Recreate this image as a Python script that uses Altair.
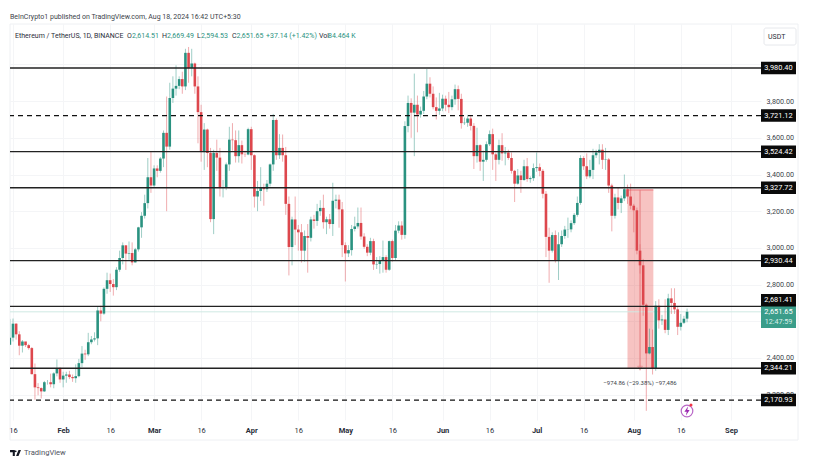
import altair as alt
import pandas as pd

FONT = "Roboto"
INK = "#2a2e39"
GREEN = "#2a9280"
RED = "#dd474d"

opens = [
    2472,2511,2587,2529,2467,2490,2470,2454,2312,2240,2236,2218,2268,2268,2257,2316,2343,
    2283,2304,2310,2296,2290,2301,2372,2424,2420,2486,2501,2507,2659,2642,2777,2824,2803,2786,2881,2945,3014,2969,2972,2921,2992,3112,3175,3244,3385,
    3340,3433,3420,3487,3627,3552,3817,3868,3883,3920,3880,4063,3980,4005,3880,3740,3522,3645,3517,3157,3517,3492,3330,3332,3455,3590,3587,3500,3560,3510,3509,
    3647,3505,3280,3310,3330,3320,3350,3455,3697,3505,3545,3505,3240,3005,3155,3100,3085,2985,3065,3055,3155,3147,3200,3218,3140,3156,3130,3257,3263,3210,
    3015,2970,2988,3103,3117,3136,3062,3006,2974,3037,2910,2912,2929,2950,2881,3037,2945,3094,3122,3071,3664,3790,3737,3780,3727,3747,3825,3895,3840,3767,3747,
    3760,3813,3780,3767,3810,3865,3812,3680,3682,3705,3665,3500,3560,3470,3480,3565,3620,3510,3480,3560,3515,3520,3490,3420,3350,3395,3370,3445,3375,3380,
    3435,3440,3420,3295,3060,2985,3070,2930,3020,3065,3100,3101,3135,3180,3245,3490,3445,3390,3425,3505,3520,3535,3480,3482,3340,3175,3275,3245,3270,3320,3280,
    3230,3205,2985,2905,2690,2425,2460,2344,2685,2605,2610,2553,2725,2700,2665,2570,2592,2614.51,
]
highs = [
    2613,2615,2590,2546,2498,2485,2477,2460,2370,2263,2240,2275,2280,2315,2322,2392,2350,
    2325,2325,2330,2310,2365,2395,2465,2445,2537,2520,2540,2680,2685,2785,2865,2860,2830,2895,2985,3030,3015,3035,3030,3000,3115,3195,3290,3490,3525,
    3450,3450,3495,3640,3825,3900,3935,3995,3935,3960,4085,4095,4085,4010,3935,3780,3680,3650,3545,3535,3590,3545,3370,3465,3660,3680,3640,3640,3585,3530,3655,
    3660,3510,3365,3440,3350,3370,3460,3730,3705,3620,3618,3550,3280,3170,3280,3125,3130,3095,3130,3170,3180,3240,3260,3290,3170,3185,3355,3290,3290,3250,
    3030,3015,3125,3170,3220,3220,3080,3020,3055,3050,2950,2955,3040,2960,3040,3045,3125,3145,3145,3690,3830,3815,3950,3830,3770,3855,3975,3930,3880,3820,3845,
    3835,3830,3850,3830,3890,3885,3840,3710,3725,3720,3680,3655,3565,3530,3580,3640,3650,3520,3590,3625,3550,3535,3520,3425,3430,3420,3480,3490,3390,3460,
    3520,3460,3430,3310,3110,3085,3095,3085,3095,3120,3165,3150,3190,3280,3505,3500,3515,3480,3540,3535,3565,3565,3545,3490,3350,3295,3330,3285,3400,3345,3350,
    3240,3220,3020,2940,2697,2560,2555,2710,2720,2635,2720,2750,2780,2780,2680,2640,2630,2669.49,
]
lows = [
    2470,2490,2500,2415,2430,2460,2445,2310,2172,2197,2180,2215,2255,2240,2235,2300,2265,
    2240,2265,2285,2270,2265,2295,2350,2390,2410,2475,2490,2470,2600,2635,2750,2760,2740,2770,2870,2910,2880,2935,2905,2920,2980,3055,3160,3215,3300,
    3330,3385,3410,3440,3200,3535,3790,3830,3865,3840,3860,3900,3935,3840,3570,3470,3425,3440,3140,3075,3420,3280,3275,3315,3420,3530,3465,3465,3460,3495,3505,
    3425,3220,3200,3255,3230,3305,3335,3420,3480,3485,3470,3180,2850,2905,3015,2985,2920,2925,2865,3035,3105,3120,3175,3105,3075,3105,3065,3215,3110,2950,
    2817,2950,2958,3090,3105,3045,2995,2955,2960,2880,2885,2860,2865,2865,2875,2925,2930,3080,3045,3050,3630,3600,3500,3630,3710,3730,3810,3820,3755,3700,3725,
    3745,3745,3735,3750,3780,3750,3650,3670,3660,3640,3430,3465,3420,3365,3470,3555,3425,3365,3455,3475,3450,3480,3405,3250,3345,3300,3365,3360,3355,3365,
    3415,3390,3270,2950,2810,2975,2920,2825,3005,3050,3055,3085,3125,3170,3235,3425,3375,3380,3375,3490,3455,3430,3425,3300,3090,3160,3210,3190,3255,3240,3210,
    3085,2965,2860,2630,2112,2420,2310,2330,2560,2580,2535,2525,2640,2640,2525,2550,2585,2594.53,
]
closes = [
    2511,2587,2529,2467,2490,2470,2454,2312,2240,2236,2218,2268,2268,2257,2316,2343,2283,
    2304,2310,2296,2290,2301,2372,2424,2420,2486,2501,2507,2659,2642,2777,2824,2803,2786,2881,2945,3014,2969,2972,2921,2992,3112,3175,3244,3385,3340,
    3433,3420,3487,3627,3552,3817,3868,3883,3920,3880,4063,3980,4005,3880,3740,3522,3645,3517,3157,3517,3492,3330,3332,3455,3590,3587,3500,3560,3510,3509,3647,
    3505,3280,3310,3330,3320,3350,3455,3697,3505,3545,3505,3240,3005,3155,3100,3085,2985,3065,3055,3155,3147,3200,3218,3140,3156,3130,3257,3263,3210,3015,
    2970,2988,3103,3117,3136,3062,3006,2974,3037,2910,2912,2929,2950,2881,3037,2945,3094,3122,3071,3664,3790,3737,3780,3727,3747,3825,3895,3840,3767,3747,3760,
    3813,3780,3767,3810,3865,3812,3680,3682,3705,3665,3500,3560,3470,3480,3565,3620,3510,3480,3560,3515,3520,3490,3420,3350,3395,3370,3445,3375,3380,3435,
    3440,3420,3295,3060,2985,3070,2930,3020,3065,3100,3101,3135,3180,3245,3490,3445,3390,3425,3505,3520,3535,3480,3482,3340,3175,3275,3245,3270,3320,3280,3230,
    3205,2985,2905,2690,2425,2460,2344,2685,2605,2610,2553,2725,2700,2665,2570,2592,2614,2651.65,
]

solid_levels = [3980.40, 3524.42, 3327.72, 2930.44, 2681.41, 2344.21]
dashed_levels = [3721.12, 2170.93]
tag_prices = [3980.40, 3721.12, 3524.42, 3327.72, 2930.44, 2681.41, 2344.21, 2170.93]
tag_anchors = [3980.40, 3721.12, 3524.42, 3327.72, 2930.44, 2715.00, 2344.21, 2170.93]
price_ticks = [2200, 2400, 2600, 2800, 3000, 3200, 3400, 3600, 3800, 4000]
month_ticks = [(1, 16), (2, 1), (2, 16), (3, 1), (3, 16), (4, 1), (4, 16), (5, 1), (5, 16),
               (6, 1), (6, 16), (7, 1), (7, 16), (8, 1), (8, 16), (9, 1)]
last_close = 2651.65

dates = pd.date_range("2024-01-15", periods=len(closes), freq="D").strftime("%Y-%m-%dT00:00:00Z")
df = pd.DataFrame({"date": dates, "open": opens, "high": highs, "low": lows, "close": closes})
df["dir"] = ["up" if c >= o else "down" for o, c in zip(opens, closes)]

W, H = 751, 396
x_scale = alt.Scale(type="utc", domain=[alt.DateTime(year=2024, month=1, date=15, hours=1, utc=True),
                                        alt.DateTime(year=2024, month=9, date=10, hours=14, utc=True)])
y_scale = alt.Scale(domain=[2062.1, 4220.2], nice=False, zero=False)
x_axis = alt.Axis(
    title=None, values=[alt.DateTime(year=2024, month=m, date=d, utc=True) for m, d in month_ticks],
    labelExpr="utcdate(datum.value)==1 ? utcFormat(datum.value,'%b') : '16'",
    labelFont=FONT, labelFontSize=7.5, labelColor=INK, labelPadding=6, labelOverlap=False, labelBound=False, labelFlush=False,
    labelFontWeight={"condition": {"test": "utcdate(datum.value)==1", "value": "bold"}, "value": "normal"},
    domain=False, ticks=False, grid=True, gridColor="#f4f5f7", gridWidth=1,
)
y_axis = alt.Axis(
    title=None, orient="right", values=price_ticks, format=",.2f",
    labelFont=FONT, labelFontSize=7.2, labelColor="#3b3f4a", labelPadding=5, labelOverlap=False, labelBound=False, labelFlush=False,
    domain=False, ticks=False, grid=True, gridColor="#f4f5f7", gridWidth=1,
)


def X(f="date"):
    return alt.X(f"{f}:T", scale=x_scale, axis=x_axis)


def Y(f):
    return alt.Y(f"{f}:Q", scale=y_scale, axis=y_axis)


def label(text, x, y, color=INK, size=7, align="left", weight="normal"):
    return alt.Chart(pd.DataFrame({"t": [text]})).mark_text(
        font=FONT, fontSize=size, align=align, baseline="middle", color=color, fontWeight=weight
    ).encode(x=alt.value(x), y=alt.value(y), text="t:N")


color_enc = alt.Color("dir:N", scale=alt.Scale(domain=["up", "down"], range=[GREEN, RED]), legend=None)

frame = alt.Chart(pd.DataFrame({"a": [0]})).mark_rect(fillOpacity=0, stroke="#eef0f3", strokeWidth=1).encode(
    x=alt.value(0), x2=alt.value(788), y=alt.value(0), y2=alt.value(416))

measure = pd.DataFrame({"d0": ["2024-07-30T00:00:00Z"], "d1": ["2024-08-07T06:00:00Z"],
                        "top": [3316.0], "bottom": [2344.21], "mid": ["2024-08-03T00:00:00Z"]})
measure_rect = alt.Chart(measure).mark_rect(color="#e53935", opacity=0.3).encode(
    x=X("d0"), x2="d1:T", y=Y("top"), y2="bottom:Q")
measure_top = alt.Chart(measure).mark_rule(color="#ea6a70", strokeWidth=1).encode(x=X("d0"), x2="d1:T", y=Y("top"))
measure_line = alt.Chart(measure).mark_rule(color="#e57a7e", strokeWidth=1).encode(x=X("mid"), y=Y("top"), y2="bottom:Q")
measure_tip = alt.Chart(measure).mark_point(shape="triangle-down", color="#e57a7e", size=22, filled=False, strokeWidth=0.8).encode(
    x=X("mid"), y=Y("bottom"))

price_line = alt.Chart(pd.DataFrame({"p": [last_close]})).mark_rule(color="#cfe9e3", strokeWidth=1).encode(y=Y("p"))
wicks = alt.Chart(df).mark_rule(strokeWidth=1, opacity=0.45, clip=True).encode(x=X(), y=Y("low"), y2="high:Q", color=color_enc)
bodies = alt.Chart(df).mark_rule(strokeWidth=2.6, clip=True).encode(x=X(), y=Y("open"), y2="close:Q", color=color_enc)

solid = alt.Chart(pd.DataFrame({"p": solid_levels})).mark_rule(color="#222222", strokeWidth=1.4).encode(y=Y("p"))
dashed = alt.Chart(pd.DataFrame({"p": dashed_levels})).mark_rule(color="#111111", strokeWidth=1.3, strokeDash=[5, 4]).encode(y=Y("p"))

green_tag = alt.Chart(pd.DataFrame({"top": [2683.0], "bottom": [2563.0]})).mark_rect(color="#3a9d8a").encode(
    x=alt.value(751), x2=alt.value(786), y=Y("top"), y2="bottom:Q")
tags = pd.DataFrame({"p": tag_prices, "a": tag_anchors})
tag_boxes = alt.Chart(tags).mark_rule(color="#0a0a0a", strokeWidth=12.5).encode(
    x=alt.value(751), x2=alt.value(786), y=Y("a"))
tag_text = alt.Chart(tags).mark_text(font=FONT, fontSize=7.4, color="white", align="center", baseline="middle").encode(
    x=alt.value(768.5), y=Y("a"), text=alt.Text("p:Q", format=",.2f"))

measure_text = alt.Chart(measure).mark_text(font=FONT, fontSize=6, color="#3b3f4a", align="center", baseline="middle", dy=15).encode(
    x=X("mid"), y=Y("bottom"), text=alt.value("\u2212974.86 (\u221229.38%) \u221297,486"))

BOLT = "M0.25,-1 L-0.55,0.15 L-0.05,0.15 L-0.25,1 L0.55,-0.2 L0.05,-0.2 Z"
LOGO = "M-1,-0.55 H-0.12 V0.55 H-0.5 V-0.15 H-1 Z M0.55,-0.55 H1 L0.55,0.55 H0.1 Z M0.2,-0.3 A0.17,0.17 0 1 1 -0.14,-0.3 A0.17,0.17 0 1 1 0.2,-0.3 Z"
one = pd.DataFrame({"a": [0]})
icon_ring = alt.Chart(one).mark_point(shape="circle", size=135, color="#9c27b0", filled=False, strokeWidth=1.2).encode(
    x=alt.value(677), y=alt.value(387))
icon_bolt = alt.Chart(one).mark_point(shape=BOLT, size=90, color="#9c27b0", filled=True, opacity=1).encode(x=alt.value(677), y=alt.value(387))
icon_dot = alt.Chart(one).mark_point(shape="circle", size=9, color="#f23645", filled=True, opacity=1).encode(x=alt.value(681), y=alt.value(381))
logo = alt.Chart(one).mark_point(shape=LOGO, size=120, color="#131722", filled=True, opacity=1).encode(x=alt.value(5.5), y=alt.value(429))
usdt_box = alt.Chart(one).mark_rect(fill="white", stroke="#e6e8ec", strokeWidth=1, cornerRadius=2).encode(
    x=alt.value(754), x2=alt.value(786), y=alt.value(4), y2=alt.value(21))

layers = [
    frame, measure_rect, measure_top, price_line, wicks, measure_line, measure_tip, bodies,
    solid, dashed, green_tag, tag_boxes, tag_text, measure_text,
    usdt_box, icon_ring, icon_bolt, icon_dot, logo,
    label("USDT", 758, 12.5),
    label("2,651.65", 768.5, 288, color="white", align="center", size=7.4),
    label("12:47:59", 768.5, 298, color="#d8efe9", align="center", size=7.2),
    label("BeInCrypto1 published on TradingView.com, Aug 18, 2024 16:42 UTC+5:30", 0, -7, color="#3b3f4a"),
    label("Ethereum / TetherUS, 1D, BINANCE", 5, 12),
    label("O", 117, 12), label("2,614.51", 122, 12, GREEN),
    label("H", 152, 12), label("2,669.49", 157, 12, GREEN),
    label("L", 187, 12), label("2,594.53", 191, 12, GREEN),
    label("C", 222, 12), label("2,651.65", 226.5, 12, GREEN),
    label("+37.14 (+1.42%)", 256, 12, GREEN),
    label("Vol", 309, 12), label("84.464 K", 318, 12, GREEN),
    label("TradingView", 14, 429, color="#50535e", size=7.6),
]

chart = alt.layer(*layers).properties(
    width=W, height=H,
    padding={"left": 2, "top": 16, "right": 46, "bottom": 38},
    autosize=alt.AutoSizeParams(type="none"),
    background="white",
).configure_view(stroke=None)

chart.save("out.html", embed_options={"renderer": "svg", "actions": False})
